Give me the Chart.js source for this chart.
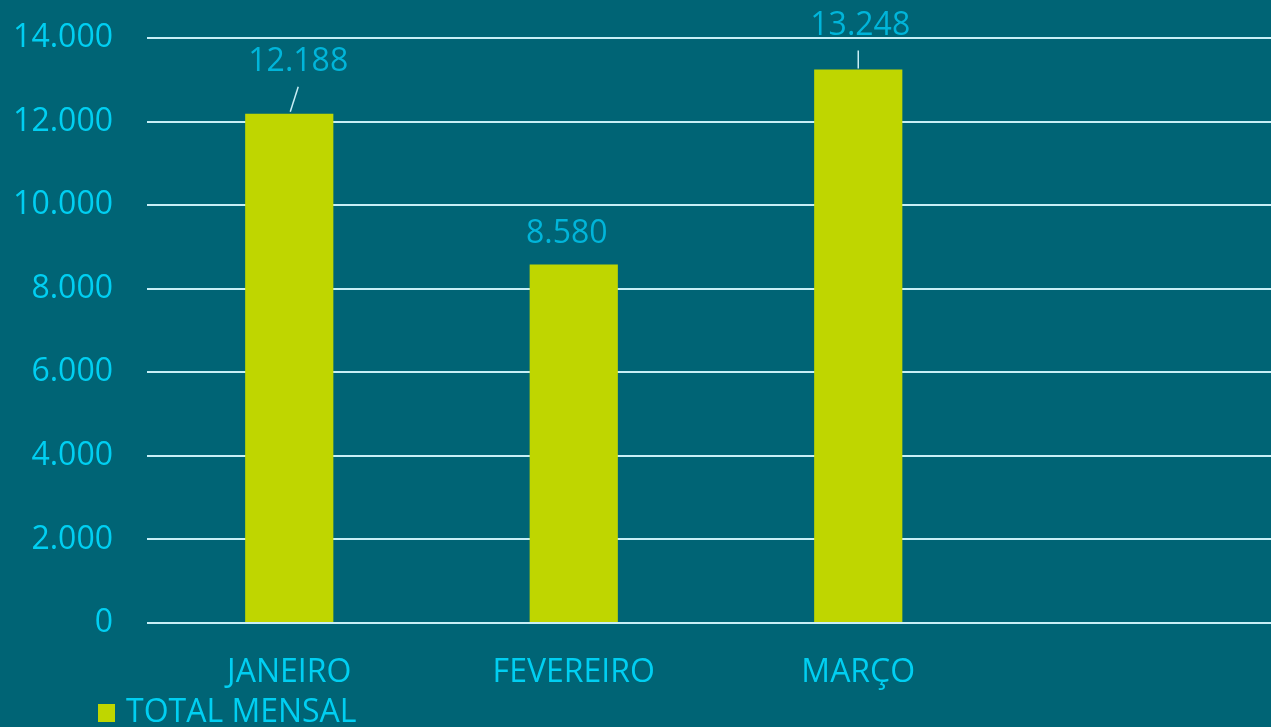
<!DOCTYPE html>
<html>
<head>
<meta charset="utf-8">
<script src="https://cdn.jsdelivr.net/npm/chart.js@4"></script>
<style>
  html, body { margin: 0; padding: 0; background: #006475; overflow: hidden; }
  /* plot runs slightly past the right edge of the window, as in the source */
  #wrap { width: 1285px; height: 727px; position: relative; }
</style>
</head>
<body>
<div id="wrap"><canvas id="chart"></canvas></div>
<script>
// --- DATA ---
const months = ['JANEIRO', 'FEVEREIRO', 'MARÇO', ''];
const totalMensal = [12188, 8580, 13248, null];
const yTicks = [0, 2000, 4000, 6000, 8000, 10000, 12000, 14000];

// label placement (offset from bar top centre) and leader lines
const labelOffsets = [[9, -52], [-7, -31], [2, -44]];
const leaders = [[1, -2, 9, -27], null, [0, -1, 0, -19]];

const fmt = v => String(v).replace(/\B(?=(\d{3})+(?!\d))/g, '.');

const bg = '#006475';
const barColor = '#bfd600';
const tickColor = '#00cff2';
const labelColor = '#00b5da';
const gridColor = '#c8eef6';
const font = "'Open Sans', 'Noto Sans', sans-serif";
const fontSize = 32;

const background = {
    id: 'background',
    beforeDraw(chart) {
        const ctx = chart.ctx;
        ctx.save();
        ctx.fillStyle = bg;
        ctx.fillRect(0, 0, chart.width, chart.height);
        ctx.restore();
    }
};

// legend sits under the plot, indented to the right
const legendShift = {
    id: 'legendShift',
    afterLayout(chart) {
        chart.legend.left += 98;
        chart.legend.right += 98;
    }
};

const valueLabels = {
    id: 'valueLabels',
    afterDatasetsDraw(chart) {
        const ctx = chart.ctx;
        const meta = chart.getDatasetMeta(0);
        ctx.save();
        meta.data.forEach((bar, i) => {
            const v = totalMensal[i];
            if (v == null) return;
            const off = labelOffsets[i];
            ctx.fillStyle = labelColor;
            ctx.font = fontSize + 'px ' + font;
            ctx.textAlign = 'center';
            ctx.textBaseline = 'middle';
            ctx.fillText(fmt(v), bar.x + off[0], bar.y + off[1]);
            const ld = leaders[i];
            if (ld) {
                ctx.strokeStyle = gridColor;
                ctx.lineWidth = 1.5;
                ctx.beginPath();
                ctx.moveTo(bar.x + ld[0], bar.y + ld[1]);
                ctx.lineTo(bar.x + ld[2], bar.y + ld[3]);
                ctx.stroke();
            }
        });
        ctx.restore();
    }
};

new Chart(document.getElementById('chart'), {
    type: 'bar',
    data: {
        labels: months,
        datasets: [{
            label: 'TOTAL MENSAL',
            data: totalMensal,
            backgroundColor: barColor,
            categoryPercentage: 1,
            barPercentage: 0.31
        }]
    },
    options: {
        responsive: true,
        maintainAspectRatio: false,
        animation: false,
        layout: { padding: { left: 0, right: 0, top: 38, bottom: -12 } },
        plugins: {
            legend: {
                position: 'bottom',
                align: 'start',
                labels: {
                    color: tickColor,
                    font: { family: font, size: fontSize },
                    usePointStyle: true,
                    pointStyle: 'rect',
                    boxWidth: 8,
                    boxHeight: 18,
                    padding: 4
                }
            },
            tooltip: { enabled: false }
        },
        scales: {
            x: {
                grid: { display: false },
                border: { display: false },
                ticks: { color: tickColor, font: { family: font, size: fontSize }, padding: 23, maxRotation: 0 },
                afterFit: s => { s.height = 70; s.paddingLeft = 0; s.paddingRight = 0; }
            },
            y: {
                min: 0,
                max: 14000,
                afterBuildTicks: s => { s.ticks = yTicks.map(v => ({ value: v })); },
                afterFit: s => { s.width = 147; s.paddingTop = 0; s.paddingBottom = 0; },
                grid: { color: gridColor, lineWidth: 2, drawTicks: false },
                border: { display: false },
                ticks: {
                    color: tickColor,
                    font: { family: font, size: fontSize },
                    padding: 34,
                    callback: v => fmt(v)
                }
            }
        }
    },
    plugins: [background, legendShift, valueLabels]
});
</script>
</body>
</html>
